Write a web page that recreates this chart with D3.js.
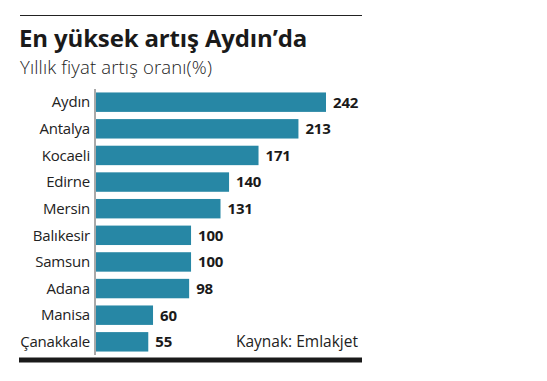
<!DOCTYPE html>
<html><head><meta charset="utf-8">
<script src="https://cdn.jsdelivr.net/npm/d3@7"></script>
<style>body{margin:0;background:#fff}svg{display:block}</style>
</head><body><svg id="c" width="547" height="381"></svg>
<script>
const categories = ["Aydın","Antalya","Kocaeli","Edirne","Mersin","Balıkesir","Samsun","Adana","Manisa","Çanakkale"];
const values = [242,213,171,140,131,100,100,98,60,55];
const title = "En yüksek artış Aydın’da";
const subtitle = "Yıllık fiyat artış oranı(%)";
const source = "Kaynak: Emlakjet";

const svg = d3.select("#c");
const F = "'Open Sans', sans-serif";
const x = d3.scaleLinear().domain([0,242]).range([96,326]);
const y = d3.scaleBand().domain(categories).range([89,355]).paddingInner(0.27).paddingOuter(0.13);

svg.append("line").attr("x1",20).attr("x2",362).attr("y1",15.5).attr("y2",15.5).attr("stroke","#222").attr("stroke-width",1.2);
svg.append("text").attr("x",19).attr("y",47).attr("font-family",F).attr("font-weight",700).attr("font-size",24).attr("fill","#1a1a1a").attr("letter-spacing",-0.15).text(title);
svg.append("text").attr("x",20).attr("y",74).attr("font-family",F).attr("font-weight",300).attr("font-size",18.5).attr("fill","#222").attr("letter-spacing",0.15).text(subtitle);

svg.selectAll("rect.bar").data(values).join("rect").attr("class","bar")
  .attr("x",x(0)).attr("y",(d,i)=>y(categories[i])).attr("width",d=>x(d)-x(0)).attr("height",y.bandwidth()).attr("fill","#2787a5");

svg.append("line").attr("x1",95).attr("x2",95).attr("y1",89).attr("y2",355).attr("stroke","#555").attr("stroke-width",1);

svg.selectAll("text.cat").data(categories).join("text").attr("class","cat")
  .attr("x",90).attr("y",d=>y(d)+y.bandwidth()/2).attr("dy","0.35em").attr("text-anchor","end")
  .attr("font-family",F).attr("font-size",15).attr("fill","#222").attr("letter-spacing",-0.2).text(d=>d);

svg.selectAll("text.val").data(values).join("text").attr("class","val")
  .attr("x",d=>x(d)+7).attr("y",(d,i)=>y(categories[i])+y.bandwidth()/2).attr("dy","0.36em")
  .attr("font-family",F).attr("font-weight",700).attr("font-size",15).attr("fill","#1a1a1a").attr("letter-spacing",-0.2).text(d=>d);

svg.append("text").attr("x",358).attr("y",y("Çanakkale")+y.bandwidth()/2).attr("dy","0.35em").attr("text-anchor","end")
  .attr("font-family",F).attr("font-size",15.5).attr("fill","#222").attr("letter-spacing",0).text(source);

svg.append("rect").attr("x",19).attr("y",357.5).attr("width",343).attr("height",5).attr("fill","#1a1a1a");
</script></body></html>
